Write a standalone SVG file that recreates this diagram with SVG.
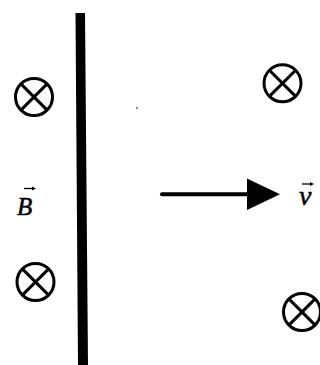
<svg xmlns="http://www.w3.org/2000/svg" width="320" height="365" viewBox="0 0 320 365">
<defs>
<style>
.c{fill:none;stroke:#000;stroke-width:3}
.t{font-family:"Liberation Serif","DejaVu Serif",serif;font-style:italic;fill:#000;stroke:#000;stroke-width:0.5}
.va{stroke:#000;stroke-width:1.3}
</style>
<g id="ox">
<circle class="c" cx="0" cy="0" r="18.5"/>
<line class="c" x1="-13.1" y1="-13.1" x2="13.1" y2="13.1"/>
<line class="c" x1="-13.1" y1="13.1" x2="13.1" y2="-13.1"/>
</g>
</defs>
<rect width="320" height="365" fill="#fff"/>
<g id="plate">
<polygon points="75.5,13 85,13 88,365 78,365" fill="#000"/>
</g>
<g id="field1"><use href="#ox" x="34" y="97"/></g>
<g id="field2"><use href="#ox" x="35.5" y="282"/></g>
<g id="field3"><use href="#ox" x="282.5" y="83.3"/></g>
<g id="field4"><use href="#ox" x="302" y="312"/></g>
<g id="labelB">
<text class="t" x="17" y="214.5" font-size="25">B</text>
<line class="va" x1="24" y1="188.5" x2="33" y2="188.5"/>
<polygon points="36,188.5 32,186.5 32,190.5" fill="#000"/>
</g>
<g id="connectors">
<line x1="162" y1="194.3" x2="250" y2="194.3" stroke="#000" stroke-width="4" stroke-linecap="round"/>
<polygon points="247,178.5 280,194.3 247,210" fill="#000"/>
</g>
<g id="labelv">
<text class="t" x="299" y="204.5" font-size="28">v</text>
<line class="va" x1="302" y1="184" x2="311" y2="184"/>
<polygon points="314,184 310,182 310,186" fill="#000"/>
</g>
<circle cx="137" cy="108" r="0.9" fill="#555"/>
</svg>
